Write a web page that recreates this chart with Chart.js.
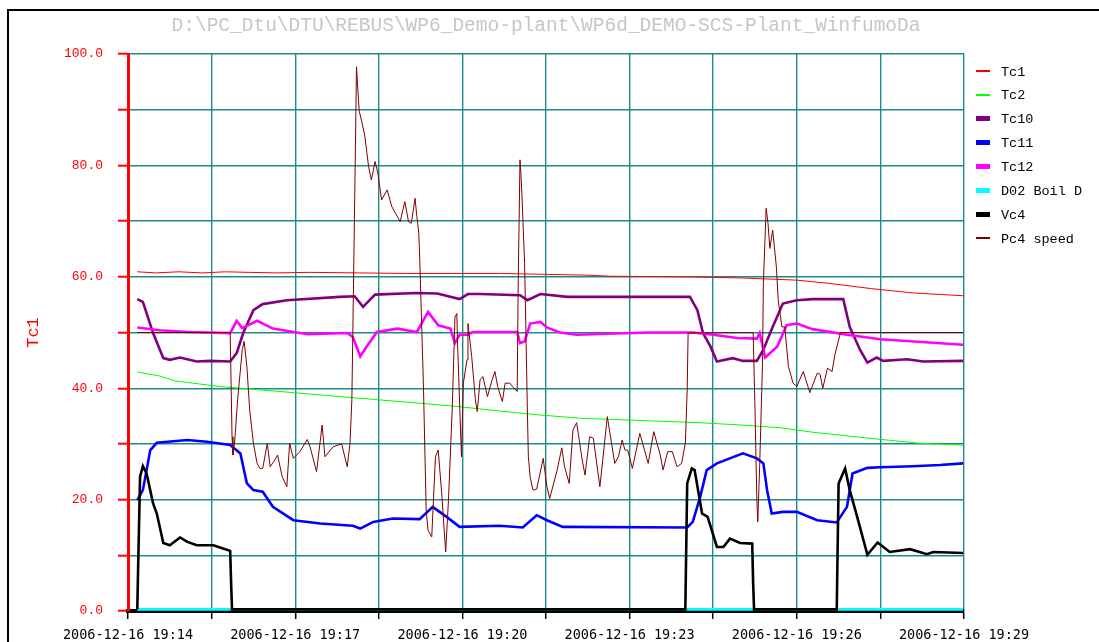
<!DOCTYPE html>
<html>
<head>
<meta charset="utf-8">
<script src="https://cdn.jsdelivr.net/npm/chart.js@4.4.1/dist/chart.umd.min.js"></script>
<style>
html,body{margin:0;padding:0;background:#fff;}
canvas{display:block;}
</style>
</head>
<body>
<canvas id="c" width="1099" height="642"></canvas>
<script>
// ---- data (time = seconds after 2006-12-16 19:14:00) ----
const chartTitle = 'D:\\PC_Dtu\\DTU\\REBUS\\WP6_Demo-plant\\WP6d_DEMO-SCS-Plant_WinfumoDa';
const yAxisTitle = 'Tc1';
const seriesNames = ['Tc1', 'Tc2', 'Tc10', 'Tc11', 'Tc12', 'D02 Boil D', 'Vc4', 'Pc4 speed'];
const xTickLabels = ['2006-12-16 19:14', '2006-12-16 19:17', '2006-12-16 19:20',
                     '2006-12-16 19:23', '2006-12-16 19:26', '2006-12-16 19:29'];

const tc1 = [[10,60.9],[30,60.7],[55,60.9],[80,60.7],[105,60.9],[130,60.8],[160,60.7],[196,60.8],
  [300,60.6],[400,60.6],[494,60.3],[519,60.1],[602,60.0],[659,59.8],[720,59.4],[756,58.8],
  [799,57.9],[845,57.1],[899,56.6]];

const tc2 = [[10,42.9],[34,42.2],[51,41.3],[99,40.3],[178,39.2],[228,38.5],[271,37.9],[350,36.8],
  [400,35.9],[443,35.2],[487,34.6],[616,33.8],[659,33.4],[702,32.9],[737,32.1],[799,31.0],
  [853,30.1],[899,29.8]];

const tc10 = [[10,56.0],[16,55.5],[27,49.9],[38,45.4],[45,45.1],[56,45.5],[74,44.8],[88,44.9],
  [110,44.8],[117,46.3],[124,49.9],[135,54.0],[145,55.1],[171,55.8],[228,56.4],[244,56.5],
  [253,54.6],[266,56.8],[310,57.1],[333,57.0],[357,56.0],[366,56.9],[379,56.9],[422,56.7],
  [430,55.8],[444,56.9],[473,56.4],[605,56.4],[613,54.0],[619,49.9],[627,47.5],[634,44.8],
  [651,45.4],[662,44.9],[677,44.9],[684,46.9],[694,51.0],[705,55.2],[720,55.8],[737,56.0],
  [770,56.0],[777,51.0],[788,46.9],[796,44.6],[806,45.5],[813,44.9],[839,45.2],[856,44.8],
  [899,44.9]];

const tc11 = [[10,19.9],[16,21.7],[24,28.9],[31,30.2],[64,30.7],[85,30.4],[110,29.8],[121,28.3],
  [128,22.9],[135,21.7],[145,21.4],[156,18.7],[178,16.3],[207,15.7],[242,15.3],[250,14.8],
  [264,16.0],[285,16.6],[314,16.5],[328,18.7],[343,16.9],[357,15.1],[400,15.3],[425,15.0],
  [440,17.2],[451,16.3],[468,15.1],[602,15.0],[608,16.0],[616,20.5],[623,25.3],[634,26.5],
  [662,28.3],[677,27.4],[684,26.5],[688,21.7],[693,17.5],[705,17.8],[720,17.8],[742,16.3],
  [763,15.9],[774,18.7],[780,24.7],[796,25.7],[810,25.8],[845,26.0],[874,26.2],[899,26.5]];

const tc12 = [[10,50.9],[34,50.4],[64,50.1],[110,49.9],[117,52.1],[123,50.8],[139,52.1],[156,50.7],
  [193,49.7],[236,49.9],[242,49.2],[250,45.7],[257,47.5],[268,50.1],[290,50.7],[311,50.1],
  [323,53.7],[334,51.3],[347,50.7],[352,48.1],[357,49.6],[366,49.6],[371,50.1],[419,50.1],
  [422,48.1],[427,48.4],[433,51.6],[444,51.9],[451,50.9],[465,50.0],[483,49.6],[559,50.0],
  [608,50.0],[630,49.6],[656,49.0],[677,48.9],[680,49.9],[686,45.5],[699,47.5],[709,51.3],
  [720,51.6],[737,50.6],[774,49.6],[810,48.8],[899,47.8]];

const d02 = [[10,0.3],[899,0.3]];

const vc4 = [[10,0.3],[11,8.6],[13,24.1],[16,26.0],[20,24.7],[27,19.3],[31,17.5],[38,12.2],
  [45,11.8],[56,13.2],[64,12.4],[74,11.8],[92,11.8],[99,11.4],[110,10.8],[111,5.0],[112,0.3],
  [600,0.3],[602,22.9],[607,25.6],[610,25.3],[618,17.5],[624,16.9],[634,11.5],[641,11.5],
  [648,13.0],[659,12.2],[672,12.1],[673,5.0],[674,0.3],[763,0.3],[765,22.9],[772,25.6],
  [777,21.7],[785,16.9],[796,10.1],[807,12.3],[820,10.6],[842,11.1],[860,10.2],[867,10.6],
  [899,10.4]];

const pc4 = [[10,50.0],[110,50.0],[112,31.3],[113,28.0],[115,30.7],[118,37.9],[123,46.9],[125,48.4],
  [128,43.9],[131,36.1],[135,30.1],[139,26.5],[142,25.6],[145,25.6],[150,30.1],[153,25.9],
  [158,27.1],[161,28.0],[166,24.1],[171,22.3],[174,30.1],[178,27.4],[185,28.6],[193,30.8],
  [196,29.5],[203,25.0],[209,33.4],[212,27.7],[221,29.5],[230,30.0],[236,25.9],[239,30.1],
  [241,37.9],[244,73.2],[246,97.7],[248,92.0],[249,89.7],[252,87.6],[255,85.2],[259,79.8],
  [262,77.4],[266,80.7],[269,78.6],[273,73.8],[279,75.6],[284,72.6],[293,69.9],[298,73.5],
  [302,69.9],[305,69.6],[309,74.1],[311,70.8],[313,67.9],[314,63.6],[318,40.9],[321,18.1],
  [323,14.5],[327,13.3],[331,27.7],[334,28.9],[338,20.5],[342,10.6],[345,19.9],[349,36.1],
  [352,52.8],[354,53.4],[355,46.9],[359,27.7],[361,40.9],[365,45.1],[366,51.6],[370,45.7],
  [374,37.9],[376,35.8],[379,41.5],[382,42.1],[387,38.5],[392,41.5],[395,43.0],[398,40.3],
  [403,37.6],[406,40.9],[411,40.9],[414,40.3],[419,39.4],[420,58.0],[422,81.0],[423,78.6],
  [424,75.0],[427,62.4],[430,35.5],[431,27.7],[433,24.0],[436,21.7],[440,21.9],[447,27.4],
  [451,22.3],[454,20.2],[462,25.3],[467,29.3],[470,25.9],[475,22.9],[479,32.5],[483,33.8],
  [489,27.1],[492,24.4],[497,31.3],[501,31.0],[508,22.3],[516,34.9],[524,26.5],[528,27.7],
  [532,30.7],[535,28.9],[538,28.9],[543,25.6],[551,31.9],[560,26.5],[566,32.2],[573,28.0],
  [576,25.3],[581,28.6],[586,28.6],[591,25.9],[596,26.5],[600,30.1],[602,39.7],[603,49.9],
  [673,50.0],[675,36.1],[677,19.9],[678,16.0],[680,25.9],[683,43.9],[684,58.8],[687,72.3],
  [689,69.6],[691,65.1],[694,68.4],[698,61.8],[700,55.8],[704,51.0],[707,51.0],[711,43.9],
  [716,40.9],[720,40.3],[727,43.0],[734,39.2],[742,42.7],[745,42.5],[748,40.0],[753,43.6],
  [758,43.0],[761,46.0],[767,50.0],[899,50.0]];

const seriesData = [tc1, tc2, tc10, tc11, tc12, d02, vc4, pc4];

// ---- styles ----
const seriesColors = ['#ff0000', '#00ff00', '#800080', '#0000ff', '#ff00ff', '#00ffff', '#000000', '#800000'];
const seriesWidths = [1, 1, 2.6, 2.6, 2.6, 2.6, 2.6, 1];
const GRID = '#1a8a8a';
const MONO = "'Liberation Mono', 'Courier New', monospace";

const datasets = seriesData.map((s, i) => ({
  label: seriesNames[i],
  data: s.map(p => ({x: p[0], y: p[1]})),
  borderColor: seriesColors[i],
  backgroundColor: seriesColors[i],
  borderWidth: seriesWidths[i],
  pointRadius: 0,
  tension: 0,
  fill: false,
  order: seriesData.length - 1 - i
}));

const framePlugin = {
  id: 'frame',
  beforeDraw(chart) {
    const ctx = chart.ctx;
    ctx.save();
    ctx.fillStyle = '#ffffff';
    ctx.fillRect(0, 0, chart.width, chart.height);
    ctx.fillStyle = '#000000';
    ctx.fillRect(7, 9, chart.width - 7, 2);
    ctx.fillRect(7, 9, 2, chart.height - 9);
    ctx.restore();
  }
};

const sideLegend = {
  id: 'sideLegend',
  afterDraw(chart) {
    const ctx = chart.ctx;
    const area = chart.chartArea;
    const x0 = area.right + 12;
    ctx.save();
    ctx.font = '13.5px ' + MONO;
    ctx.textBaseline = 'middle';
    ctx.textAlign = 'left';
    chart.data.datasets.forEach((ds, i) => {
      const y = area.top + 17 + i * 23.85;
      const h = ds.borderWidth > 1.5 ? 5 : 2;
      ctx.fillStyle = ds.borderColor;
      ctx.fillRect(x0, Math.round(y - h / 2), 14, h);
      ctx.fillStyle = '#000000';
      ctx.fillText(ds.label, x0 + 25, y + 1);
    });
    ctx.restore();
  }
};

new Chart(document.getElementById('c'), {
  type: 'line',
  data: { datasets },
  plugins: [framePlugin, sideLegend],
  options: {
    responsive: false,
    animation: false,
    devicePixelRatio: 1,
    events: [],
    layout: { padding: { left: 0, top: 0, right: 135, bottom: 0 } },
    plugins: {
      legend: { display: false },
      tooltip: { enabled: false },
      title: {
        display: true,
        text: chartTitle,
        color: '#c6c6c6',
        fullSize: false,
        font: { family: MONO, size: 19.5, weight: 'normal', lineHeight: 1.2 },
        padding: { top: 14, bottom: 16.6 }
      }
    },
    scales: {
      x: {
        type: 'linear',
        min: 0,
        max: 900,
        ticks: {
          stepSize: 90,
          autoSkip: false,
          maxRotation: 0,
          minRotation: 0,
          color: '#000000',
          padding: 8,
          font: { family: "'DejaVu Sans Mono', monospace", size: 13.5 },
          callback: v => (v % 180 === 0 ? xTickLabels[v / 180] : '')
        },
        grid: { color: GRID, lineWidth: 1.4, tickColor: '#000000', tickLength: 8, tickWidth: 1.5 },
        border: { color: '#000000', width: 4 },
        afterFit: s => { s.height = 31; }
      },
      y: {
        min: 0,
        max: 100,
        ticks: {
          stepSize: 10,
          color: '#ff0000',
          padding: 15,
          font: { family: MONO, size: 13 },
          callback: v => (v % 20 === 0 ? v.toFixed(1) : '')
        },
        grid: { color: GRID, lineWidth: 1.4, tickColor: '#ff0000', tickLength: 10, tickWidth: 2 },
        border: { color: '#ff0000', width: 3 },
        title: {
          display: true,
          text: yAxisTitle,
          color: '#ff0000',
          font: { family: MONO, size: 17 },
          padding: { top: 23, bottom: 0 }
        },
        afterFit: s => { s.width = 128; }
      }
    }
  }
});
</script>
</body>
</html>
